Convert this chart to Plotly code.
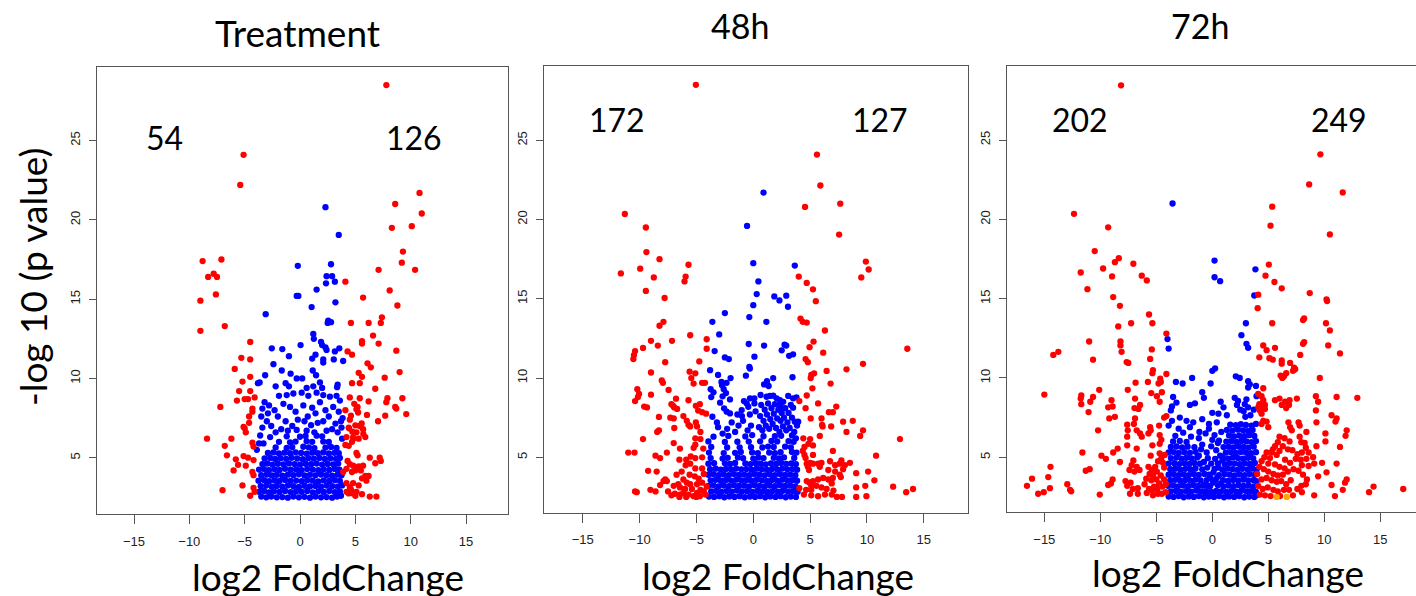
import plotly.graph_objects as go

# ---------------- data (log2 fold change, -log10 p) ----------------
titles = ["Treatment", "48h", "72h"]
count_down = ["54", "172", "202"]
count_up = ["126", "127", "249"]
x_ticks = [-15, -10, -5, 0, 5, 10, 15]
y_ticks = [5, 10, 15, 20, 25]

treat_red = [
    (-5.1,24.1),(-5.4,22.2),(-8.8,17.4),(-7.1,17.5),(-8.3,16.4),(-7.8,16.6),(-7.5,16.4),(-7.6,15.3),(-9.0,14.9),(-9.0,13.0),
    (-6.8,13.3),(-4.5,12.3),(-5.3,11.3),(-4.5,11.2),(-5.9,10.6),(-4.5,10.1),(-5.2,9.8),(-5.5,9.2),(-4.5,9.2),(-4.1,8.8),
    (-5.7,8.6),(-5.0,8.7),(-4.7,8.7),(-7.2,8.2),(-4.3,8.1),(-4.3,7.9),(-4.6,7.6),(-4.6,7.2),(-5.1,6.95),(-5.0,6.85),
    (-4.9,6.6),(-8.4,6.2),(-6.2,6.2),(-4.3,5.95),(-4.2,5.7),(-6.8,5.75),(-6.6,5.15),(-5.8,4.9),(-5.1,5.1),(-4.7,5.0),
    (-4.2,4.85),(-5.6,4.55),(-4.9,4.5),(-6.0,4.2),(-4.3,4.1),(-4.2,3.9),(-5.2,3.25),(-7.0,2.95),(-4.2,3.1),(-4.1,2.85),(-4.5,2.6),
    (7.8,28.5),(10.8,21.7),(8.6,21.0),(11.0,20.4),(8.3,19.5),(10.1,19.6),(9.3,18.0),(9.2,17.3),(7.1,16.85),(10.4,16.85),
    (8.1,15.55),(5.7,15.1),(4.1,16.1),(8.8,14.6),(7.4,13.85),(7.3,13.5),(4.6,13.5),(6.2,13.5),(6.6,12.7),(7.1,12.2),
    (5.6,12.2),(5.6,12.35),(4.3,11.7),(4.7,11.5),(8.7,11.75),(6.1,10.95),(6.4,10.7),(5.3,10.35),(5.6,10.1),(9.0,10.4),
    (7.65,10.05),(4.7,9.7),(5.4,9.7),(6.8,9.35),(4.5,8.8),(5.4,8.75),(6.2,8.55),(7.9,8.75),(7.8,8.5),(9.25,8.75),
    (8.6,8.2),(8.7,8.1),(9.6,7.75),(7.7,7.65),(7.05,7.3),(6.05,7.7),(4.9,8.4),(5.2,8.2),(5.1,8.05),(5.25,7.85),
    (4.1,8.0),(4.6,7.65),(4.5,7.4),(5.4,7.0),(5.7,6.8),(5.1,6.6),(4.4,6.9),(4.2,6.3),(4.8,6.3),(4.7,6.0),
    (5.3,6.2),(5.9,6.3),(4.1,5.8),(4.4,5.75),(5.1,5.3),(5.2,5.15),(6.3,5.0),(7.2,5.0),(7.3,4.8),(6.8,4.65),
    (4.3,4.8),(4.5,4.6),(4.8,4.5),(4.2,4.3),(3.9,4.1),(4.7,4.1),(5.0,4.2),(5.3,4.45),(5.7,4.5),(5.5,4.2),
    (5.9,3.85),(6.2,3.85),(5.6,3.7),(6.0,3.55),(4.2,3.4),(4.8,3.4),(4.5,3.15),(5.3,3.25),(4.2,2.85),(4.4,2.75),
    (4.8,2.75),(5.1,2.85),(5.6,2.7),(6.3,2.55),(6.9,2.55),(4.6,3.0),(5.0,2.6),(4.43,6.85),(4.73,6.64),(5.0,7.04),
    (5.57,7.16),(5.72,6.5),(4.82,6.2),
]
treat_blue = [
    (2.3,20.8),(3.5,19.05),(-0.2,17.1),(2.8,17.2),(2.4,16.45),(2.9,16.45),(2.35,16.0),(3.15,16.1),(1.5,15.6),(-0.3,15.2),
    (-0.15,15.2),(1.05,14.5),(3.2,14.8),(-3.1,14.05),(2.5,13.5),(2.55,13.65),(2.8,13.55),(1.2,12.8),(1.25,12.5),(0.05,12.1),
    (-2.55,11.9),(-1.6,11.85),(1.9,12.3),(2.0,12.1),(2.3,11.95),(2.4,11.8),(3.15,11.7),(3.55,11.9),(1.1,11.25),(1.4,11.5),
    (2.1,11.2),(2.1,11.0),(3.05,11.2),(3.9,11.1),(-1.0,11.4),(-2.4,10.9),(-1.65,10.5),(-3.15,10.2),(-0.85,10.3),(-0.3,10.0),
    (0.2,10.0),(1.15,10.5),(1.45,10.2),(1.8,9.75),(2.0,9.4),(1.2,9.5),(-3.8,9.7),(-3.65,9.75),(-2.2,9.5),(-1.3,9.7),
    (-1.0,9.5),(3.4,9.6),(3.35,9.45),(0.6,9.4),
    (-1.9,8.9),(-1.2,8.95),(-0.6,9.05),(0.15,9.1),(0.75,8.9),(1.5,9.1),(2.1,8.95),(2.7,8.85),(3.3,8.9),(3.6,8.6),
    (-3.2,8.5),(-2.8,8.3),(-2.3,8.0),(-3.4,8.1),(-2.9,7.8),(-3.5,7.6),(-3.0,7.3),(-3.4,6.9),(-2.6,7.0),(-2.0,7.6),
    (-1.5,8.4),(-0.9,8.2),(-0.4,7.9),(0.3,8.3),(0.7,7.6),(1.1,8.15),(1.4,7.8),(1.8,8.5),(2.3,8.0),(2.6,7.6),
    (3.0,8.2),(3.5,7.9),(3.7,7.3),(3.2,7.15),(2.9,6.8),(2.1,7.3),(1.6,7.2),(1.0,7.05),(0.4,7.3),(-0.2,7.4),
    (-0.7,7.0),(-1.3,7.3),(-1.7,6.8),(-2.2,6.6),(-1.1,6.7),(-0.3,6.75),(0.6,6.7),(1.3,6.6),(2.4,6.7),(3.4,6.6),
    (-3.6,6.4),(-2.7,6.3),(3.75,6.9),(3.85,7.5),(3.8,6.2),(-3.7,5.9),(-3.9,5.5),(-3.3,5.9),
    (-3.5,2.55),(-3.05,2.5),(-2.6,2.55),(-2.1,2.5),(-1.6,2.52),(-1.1,2.48),(-0.6,2.55),(-0.1,2.5),(0.4,2.53),(0.9,2.48),
    (1.4,2.55),(1.9,2.5),(2.4,2.52),(2.9,2.48),(3.35,2.55),(3.7,2.6),
    (-3.7,2.85),(-3.25,2.9),(-2.8,2.82),(-2.35,2.88),(-1.85,2.84),(-1.35,2.9),(-0.85,2.83),(-0.35,2.87),(0.15,2.85),(0.65,2.9),
    (1.15,2.82),(1.65,2.88),(2.15,2.84),(2.65,2.9),(3.15,2.83),(3.6,2.87),
    (-3.55,3.2),(-3.05,3.24),(-2.55,3.17),(-2.1,3.22),(-1.6,3.18),(-1.1,3.25),(-0.6,3.2),(-0.1,3.16),(0.4,3.23),(0.9,3.19),
    (1.4,3.22),(1.9,3.17),(2.4,3.24),(2.9,3.2),(3.4,3.18),(3.8,3.25),
    (-3.75,3.55),(-3.25,3.58),(-2.8,3.52),(-2.3,3.57),(-1.85,3.53),(-1.35,3.6),(-0.85,3.54),(-0.35,3.56),(0.15,3.52),(0.65,3.58),
    (1.15,3.55),(1.65,3.5),(2.15,3.57),(2.65,3.53),(3.15,3.58),(3.6,3.54),
    (-3.5,3.9),(-3.0,3.94),(-2.55,3.88),(-2.1,3.92),(-1.6,3.87),(-1.1,3.93),(-0.6,3.9),(-0.1,3.95),(0.4,3.88),(0.9,3.92),
    (1.4,3.89),(1.9,3.94),(2.4,3.9),(2.9,3.87),(3.4,3.93),(3.75,3.9),
    (-3.7,4.25),(-3.25,4.28),(-2.8,4.22),(-2.3,4.27),(-1.85,4.23),(-1.35,4.3),(-0.85,4.24),(-0.35,4.26),(0.15,4.22),(0.65,4.28),
    (1.15,4.25),(1.65,4.21),(2.15,4.27),(2.65,4.23),(3.15,4.29),(3.55,4.24),
    (-3.4,4.6),(-2.95,4.63),(-2.5,4.57),(-2.0,4.62),(-1.5,4.58),(-1.0,4.64),(-0.5,4.6),(0.0,4.56),(0.5,4.62),(1.0,4.59),
    (1.5,4.63),(2.0,4.57),(2.5,4.61),(3.0,4.58),(3.45,4.63),
    (-3.2,4.95),(-2.7,4.98),(-2.25,4.92),(-1.75,4.97),(-1.25,4.93),(-0.75,4.99),(-0.25,4.95),(0.25,4.91),(0.75,4.97),(1.25,4.94),
    (1.75,4.98),(2.25,4.92),(2.75,4.96),(3.25,4.93),(3.6,4.98),
    (-2.9,5.3),(-2.4,5.33),(-1.9,5.27),(-1.4,5.32),(-0.9,5.28),(-0.4,5.34),(0.1,5.3),(0.6,5.26),(1.1,5.32),(1.6,5.29),
    (2.1,5.33),(2.6,5.27),(3.1,5.31),(3.5,5.28),
    (-2.2,5.65),(-1.2,5.62),(-0.7,5.67),(0.3,5.69),(0.8,5.65),(1.3,5.61),(2.3,5.64),(2.8,5.68),(3.3,5.62),
    (-1.9,6.0),(-0.9,5.97),(-0.4,6.02),(0.6,6.04),(1.1,6.0),(2.1,6.02),(2.6,5.99),
    (-1.2,6.35),(0.0,6.32),(0.5,6.37),(1.5,6.39),(2.0,6.35),
]

h48_red = [
    (-5.05,28.5),(-11.3,20.35),(-9.45,19.5),(-9.4,17.95),(-8.25,17.5),(-9.95,16.9),(-11.65,16.6),(-8.75,16.35),(-5.7,17.15),(-5.95,16.4),
    (-6.05,16.1),(-9.45,15.5),(-7.8,15.05),(-8.25,13.3),(-7.9,13.55),(-5.55,12.7),(-4.1,12.45),(-7.15,12.35),(-9.0,12.35),(-8.4,12.05),
    (-9.7,11.9),(-10.4,11.7),(-10.5,11.45),(-10.55,11.2),(-4.1,11.85),(-4.75,11.05),(-7.75,11.0),(-5.6,10.4),(-5.1,10.3),(-5.45,10.0),
    (-5.25,9.65),(-9.0,10.35),(-8.05,9.85),(-7.95,9.7),(-4.5,9.7),(-4.25,9.7),(-10.2,9.3),(-7.45,9.25),(-10.05,9.0),(-10.15,8.8),
    (-10.4,8.55),(-9.0,8.95),(-6.8,8.7),(-5.7,8.6),(-9.6,8.2),(-9.35,8.15),(-7.2,8.35),(-6.95,8.15),(-6.7,8.05),(-7.05,8.25),
    (-5.05,8.25),(-4.7,8.35),(-4.85,7.95),(-4.5,7.85),(-4.15,7.75),(-8.3,7.55),(-7.3,7.5),(-7.0,7.45),(-6.15,7.6),(-5.85,7.3),
    (-5.7,7.05),(-5.55,6.95),(-5.05,7.2),(-4.95,6.95),(-6.95,6.85),(-8.45,6.6),(-8.3,6.7),(-4.65,6.6),(-5.1,6.2),(-4.65,6.15),
    (-9.7,6.15),(-7.0,5.9),(-6.45,5.55),(-5.1,5.8),(-4.4,5.55),(-5.25,5.6),(-11.0,5.3),(-10.45,5.3),(-7.6,5.3),(-8.6,5.1),
    (-8.2,4.95),(-6.5,4.85),(-5.9,4.85),(-5.5,5.05),(-5.1,4.95),(-4.5,5.0),(-9.25,4.15),(-8.5,4.1),(-7.75,3.6),(-7.6,3.5),
    (-7.9,3.5),(-6.15,3.6),(-5.85,3.4),(-5.55,3.3),(-6.45,3.1),(-6.0,3.0),(-5.4,3.0),(-4.95,3.3),(-4.5,3.4),(-4.65,2.95),
    (-4.35,2.85),(-4.95,2.75),(-5.25,2.55),(-5.7,2.65),(-6.15,2.75),(-6.45,2.65),(-6.9,2.7),(-7.2,2.6),(-7.5,2.85),(-4.2,2.65),
    (-4.1,3.15),(-4.35,3.95),(-4.5,4.3),(-5.1,4.3),(-5.55,4.6),(-5.95,4.5),(-5.6,3.9),(-5.15,3.8),(-6.3,4.1),(-6.75,3.9),
    (-6.6,3.3),(-7.0,3.2),(-4.8,3.65),(-10.4,2.85),(-10.25,2.8),(-9.05,2.95),(-8.6,2.85),(-8.2,3.25),(-5.0,2.5),(-4.7,2.55),
    (-5.9,2.5),(-6.5,2.5),
    (5.6,24.1),(5.9,22.15),(4.55,20.8),(7.65,21.0),(7.55,19.05),(9.9,17.35),(10.15,16.85),(9.5,16.35),(4.0,16.4),(4.7,16.0),
    (5.25,15.6),(5.5,14.85),(4.15,13.75),(4.35,13.55),(4.7,13.5),(6.3,13.0),(5.3,12.3),(4.95,11.95),(6.15,11.6),(4.6,11.2),
    (4.8,11.0),(5.1,10.2),(5.35,10.3),(6.45,10.45),(8.2,10.55),(9.65,10.9),(5.05,10.0),(6.8,9.65),(5.2,9.35),(4.7,8.9),
    (4.05,8.55),(5.7,8.4),(4.6,8.1),(7.3,8.2),(6.65,7.85),(7.0,7.85),(5.05,7.45),(6.0,7.45),(7.9,7.25),(8.75,7.3),
    (6.05,7.05),(6.1,6.95),(6.85,6.95),(8.2,6.6),(9.65,6.7),(9.4,6.35),(5.85,6.35),(4.4,6.2),(5.0,6.15),(4.85,5.85),
    (5.25,5.75),(4.5,5.65),(12.9,6.15),(7.0,5.4),(5.25,5.15),(4.35,5.4),(4.5,5.15),(4.6,4.95),(4.7,4.6),(4.8,4.4),
    (4.9,4.2),(10.8,5.1),(5.0,4.65),(5.25,4.6),(5.7,4.6),(6.0,4.65),(5.85,4.4),(6.75,4.75),(7.2,4.5),(7.6,4.6),
    (7.75,4.8),(8.05,4.5),(8.5,4.65),(7.9,4.25),(6.6,4.2),(7.2,4.1),(7.6,3.9),(7.0,3.7),(6.6,3.6),(6.15,3.7),
    (5.7,3.6),(5.25,3.5),(4.95,3.4),(4.7,3.5),(5.1,3.2),(5.55,3.2),(6.0,3.1),(5.1,2.95),(4.65,2.95),(4.05,3.05),
    (4.45,2.65),(5.1,2.6),(5.7,2.55),(6.3,2.65),(6.9,2.65),(7.05,2.9),(7.35,2.5),(7.8,2.5),(6.45,3.0),(6.9,3.35),
    (7.7,3.75),(9.05,4.0),(10.1,4.1),(10.65,3.55),(9.05,3.1),(9.85,3.2),(9.95,2.55),(9.05,2.5),(12.3,3.15),(13.45,2.8),
    (14.05,3.0),(13.55,11.85),
]
h48_blue = [
    (0.9,21.7),(-0.55,19.6),(0.0,17.25),(3.65,17.1),(0.45,16.1),(0.3,15.3),(1.85,15.15),(2.3,14.9),(2.9,15.2),(3.05,14.5),
    (0.0,14.6),(-2.5,14.1),(-0.35,13.85),(-3.6,13.55),(1.15,13.55),(-3.0,12.75),(-0.4,12.15),(0.95,12.05),(2.75,12.1),(2.9,12.05),
    (2.5,11.75),(-3.4,11.7),(3.5,11.5),(3.15,11.4),(0.1,11.35),(-2.5,11.3),(-2.15,11.2),(-0.35,10.7),(-0.3,10.6),(-3.8,10.5),
    (-3.1,10.2),(-0.65,10.15),(1.75,10.0),(3.45,10.05),(-2.8,9.75),(-2.35,9.7),(-2.0,10.0),(1.2,9.8),(0.95,9.6),(1.35,9.5),
    (-3.75,9.3),(-3.5,9.1),(-3.7,8.8),(-2.75,9.55),(-2.6,9.3),(-2.4,9.05),(-2.7,8.85),
    (-2.05,8.65),(-2.92,8.45),(-0.82,8.55),(-0.58,8.4),(-0.29,8.72),(0.09,8.72),(0.64,8.93),(1.17,8.82),(1.46,8.87),(1.75,8.89),
    (2.05,8.72),(2.34,8.61),(2.63,8.5),(3.07,8.87),(3.5,8.72),(3.8,8.78),(2.34,8.3),(2.63,8.09),(3.5,8.13),(3.95,7.25),
    (3.65,7.25),(-3.6,7.56),(-2.57,8.09),(-2.34,7.88),(-2.05,7.77),(-1.02,7.98),(-0.44,8.19),
    (0.7,8.3),(1.0,8.0),(1.3,8.4),(1.6,8.1),(1.9,8.35),(2.2,8.0),(2.5,7.8),(2.8,8.1),(3.1,7.8),(3.3,8.3),
    (0.6,7.6),(0.9,7.3),(1.2,7.7),(1.5,7.4),(1.8,7.75),(2.1,7.45),(2.4,7.3),(2.7,7.5),(3.0,7.2),(3.4,7.5),
    (0.5,6.9),(0.8,6.7),(1.1,7.0),(1.4,6.8),(1.7,7.1),(2.0,6.85),(2.3,6.6),(2.6,6.95),(2.9,6.7),(3.2,6.85),
    (3.6,6.6),(-0.2,7.0),(-0.5,6.7),(-0.9,7.3),(-1.3,7.0),(-1.6,6.6),(-1.9,7.2),(-2.3,6.8),(-2.7,6.5),(-3.1,6.9),
    (-3.5,6.3),(-0.3,7.7),(-1.0,7.6),(-1.4,7.7),(-3.2,7.2),(0.2,7.9),(0.1,8.4),(-0.1,6.4),(3.85,7.0),(3.75,6.2),
    (-3.9,2.52),(-3.45,2.5),(-3.0,2.55),(-2.55,2.48),(-2.1,2.53),(-1.65,2.5),(-1.2,2.55),(-0.75,2.48),(-0.3,2.52),(0.15,2.5),
    (0.6,2.55),(1.05,2.48),(1.5,2.53),(1.95,2.5),(2.4,2.55),(2.85,2.48),(3.3,2.52),(3.75,2.5),
    (-3.7,2.85),(-3.25,2.88),(-2.8,2.82),(-2.35,2.87),(-1.9,2.83),(-1.45,2.9),(-1.0,2.84),(-0.55,2.86),(-0.1,2.82),(0.35,2.88),
    (0.8,2.85),(1.25,2.81),(1.7,2.87),(2.15,2.83),(2.6,2.89),(3.05,2.84),(3.5,2.86),(3.9,2.82),
    (-3.95,3.2),(-3.5,3.23),(-3.05,3.17),(-2.6,3.22),(-2.15,3.18),(-1.7,3.24),(-1.25,3.19),(-0.8,3.21),(-0.35,3.17),(0.1,3.23),
    (0.55,3.2),(1.0,3.16),(1.45,3.22),(1.9,3.18),(2.35,3.24),(2.8,3.19),(3.25,3.21),(3.7,3.17),
    (-3.75,3.55),(-3.3,3.58),(-2.85,3.52),(-2.4,3.57),(-1.95,3.53),(-1.5,3.59),(-1.05,3.54),(-0.6,3.56),(-0.15,3.52),(0.3,3.58),
    (0.75,3.55),(1.2,3.51),(1.65,3.57),(2.1,3.53),(2.55,3.59),(3.0,3.54),(3.45,3.56),(3.85,3.52),
    (-3.95,3.9),(-3.5,3.93),(-3.05,3.87),(-2.6,3.92),(-2.15,3.88),(-1.7,3.94),(-1.25,3.89),(-0.8,3.91),(-0.35,3.87),(0.1,3.93),
    (0.55,3.9),(1.0,3.86),(1.45,3.92),(1.9,3.88),(2.35,3.94),(2.8,3.89),(3.25,3.91),(3.7,3.87),
    (-3.8,4.25),(-3.3,4.28),(-2.85,4.22),(-2.4,4.27),(-1.95,4.23),(-1.5,4.29),(-1.05,4.24),(-0.6,4.26),(-0.15,4.22),(0.3,4.28),
    (0.75,4.25),(1.2,4.21),(1.65,4.27),(2.1,4.23),(2.55,4.29),(3.0,4.24),(3.45,4.26),(3.85,4.22),
    (-3.95,4.6),(-3.45,4.63),(-2.5,4.62),(-2.05,4.58),(-1.6,4.64),(-0.7,4.61),(-0.25,4.57),(0.2,4.63),
    (0.65,4.6),(1.1,4.56),(1.55,4.62),(2.0,4.58),(2.45,4.64),(2.9,4.59),(3.35,4.61),(3.75,4.57),
    (-3.75,4.95),(-2.7,4.92),(-2.25,4.97),(-1.35,4.99),(-0.9,4.94),(0.0,4.92),(0.45,4.98),(0.9,4.95),(1.8,4.97),(2.25,4.93),
    (2.7,4.99),(3.6,4.96),
    (-3.9,5.3),(-2.6,5.27),(-1.6,5.28),(-1.1,5.34),(-0.1,5.31),(0.4,5.27),(1.4,5.3),(1.9,5.26),(2.4,5.32),(3.4,5.34),(3.8,5.3),
    (-3.7,5.65),(-2.3,5.62),(-1.2,5.63),(-0.2,5.64),(0.8,5.62),(1.3,5.68),(1.8,5.65),(2.8,5.67),(3.3,5.63),
    (-3.95,6.0),(-2.5,5.97),(-1.4,5.98),(-0.4,5.99),(0.6,6.01),(1.6,6.03),(2.1,6.0),(3.1,6.02),(3.55,5.98),
    (-2.2,6.35),(-0.7,6.32),(0.9,6.33),(1.9,6.34),(2.45,6.36),(3.4,6.38),
]

h72_red = [
    (-8.15,28.45),(-12.35,20.35),(-9.3,19.5),(-10.5,18.0),(-9.75,16.9),(-8.7,17.3),(-8.35,17.55),(-7.05,17.2),(-11.75,16.65),(-8.95,16.4),
    (-6.3,16.45),(-5.85,16.15),(-11.15,15.6),(-8.85,15.1),(-8.25,14.55),(-5.65,14.0),(-5.35,13.45),(-7.25,13.45),(-8.4,13.25),(-4.1,12.8),
    (-8.2,12.3),(-8.2,12.05),(-8.1,11.65),(-11.0,12.3),(-13.75,11.65),(-14.2,11.45),(-5.4,11.8),(-5.55,11.2),(-10.65,11.15),(-7.65,11.0),
    (-7.5,10.95),(-5.3,10.5),(-5.35,10.3),(-4.1,10.25),(-4.65,9.95),(-4.6,9.75),(-4.8,9.65),(-5.75,9.75),(-6.85,9.7),(-10.1,9.25),
    (-15.0,8.95),(-11.7,8.9),(-11.75,8.7),(-11.7,8.35),(-10.65,8.8),(-10.9,8.5),(-9.0,8.6),(-9.3,8.15),(-8.9,8.2),(-7.55,9.25),
    (-6.9,8.7),(-6.45,8.3),(-6.95,8.1),(-6.6,8.05),(-5.45,9.05),(-4.95,8.85),(-4.5,9.1),(-4.7,8.5),(-11.05,7.85),(-9.2,7.45),
    (-8.7,7.55),(-6.9,7.45),(-7.0,7.1),(-7.6,7.05),(-7.55,6.7),(-4.3,7.5),(-4.1,7.6),(-4.75,7.0),(-10.2,6.7),(-6.75,6.7),
    (-6.45,6.5),(-6.3,6.3),(-5.55,6.9),(-5.5,6.7),(-5.7,6.5),(-7.6,6.3),(-7.6,5.75),(-4.7,6.4),(-4.55,6.1),(-4.7,5.85),
    (-5.35,5.75),(-6.75,5.55),(-11.6,5.3),(-9.9,5.1),(-9.5,4.9),(-8.85,5.3),(-8.45,5.55),(-8.25,4.7),(-5.5,5.1),(-4.7,5.25),
    (-4.55,4.95),(-4.25,5.15),(-4.85,4.75),(-4.4,4.65),(-7.05,4.8),(-7.2,4.5),(-6.75,4.4),(-7.4,4.2),(-6.95,4.1),(-6.5,4.2),
    (-14.45,4.4),(-11.3,4.15),(-10.95,4.25),(-5.7,4.4),(-5.4,4.2),(-5.1,4.4),(-4.95,4.1),(-5.6,3.95),(-5.3,3.85),(-5.9,3.65),
    (-5.45,3.55),(-5.0,3.6),(-4.6,3.85),(-4.3,3.6),(-4.75,3.35),(-5.2,3.15),(-5.65,3.0),(-5.35,2.9),(-4.9,3.0),(-4.45,3.15),
    (-4.15,3.3),(-4.5,2.7),(-4.85,2.7),(-5.3,2.6),(-5.85,2.75),(-4.15,2.8),(-6.05,3.3),(-4.3,4.35),(-7.75,3.5),(-7.3,3.4),
    (-7.6,3.2),(-7.1,3.0),(-6.65,3.05),(-6.65,2.7),(-7.35,2.7),(-8.9,3.6),(-9.05,3.35),(-16.1,3.65),(-16.55,3.2),(-15.55,2.7),
    (-15.05,2.8),(-14.5,3.05),(-14.65,3.75),(-12.95,3.3),(-12.7,2.95),(-12.6,2.85),(-10.05,2.65),(-9.3,3.25),
    (9.65,24.1),(8.65,22.2),(11.65,21.7),(5.35,20.8),(5.2,19.6),(10.5,19.05),(5.05,17.15),(4.75,16.45),(5.55,16.05),(6.2,15.65),
    (4.1,15.25),(8.7,15.35),(10.2,14.95),(4.05,14.4),(10.25,14.85),(8.2,13.75),(8.1,13.65),(5.35,13.45),(10.15,13.45),(10.5,13.0),
    (8.2,12.25),(8.1,12.15),(4.55,12.05),(5.6,11.9),(4.85,11.75),(10.35,12.05),(11.4,11.55),(7.85,11.45),(4.2,11.3),(5.1,11.25),
    (5.4,11.15),(6.2,11.1),(6.2,10.9),(6.95,10.95),(7.4,10.55),(7.2,10.45),(7.3,10.65),(6.1,10.15),(6.4,10.1),(6.25,10.0),
    (6.6,10.3),(9.6,10.0),(4.55,9.35),(4.1,9.0),(4.4,8.85),(4.55,8.6),(4.2,8.35),(4.4,8.25),(4.7,8.3),(4.1,8.15),
    (4.25,7.95),(4.4,7.75),(4.7,8.05),(5.6,8.6),(6.0,8.7),(6.2,8.3),(6.5,8.5),(6.6,8.1),(6.85,8.3),(6.9,8.6),
    (7.55,8.7),(9.25,8.85),(9.45,8.5),(11.1,8.8),(12.95,8.75),(9.25,7.95),(10.65,7.65),(11.1,7.45),(11.0,7.25),(9.3,7.2),
    (7.7,7.2),(7.8,7.0),(6.8,7.2),(6.95,6.9),(7.1,6.7),(4.55,7.3),(4.4,7.1),(5.0,6.9),(4.85,7.25),(12.0,6.7),
    (11.9,6.35),(10.1,6.5),(10.1,6.0),(8.4,6.6),(7.8,6.3),(7.95,5.95),(8.25,5.9),(6.0,6.3),(6.45,6.2),(5.85,5.95),
    (6.9,6.0),(6.3,5.7),(6.75,5.5),(6.0,5.4),(5.6,5.7),(5.4,5.5),(5.3,5.3),(5.75,5.15),(5.15,4.95),(4.85,5.3),
    (4.65,5.0),(4.4,4.75),(5.0,4.6),(5.6,4.55),(6.0,4.4),(6.45,4.3),(6.75,4.1),(6.3,3.9),(5.85,3.85),(5.45,3.95),
    (5.0,4.1),(4.6,4.25),(4.2,4.4),(4.0,3.95),(4.4,3.6),(4.85,3.7),(5.3,3.55),(5.75,3.45),(6.15,3.5),(6.6,3.3),
    (7.0,3.55),(6.85,2.95),(6.4,2.95),(5.85,2.85),(5.45,2.95),(4.95,3.1),(4.5,3.0),(4.1,3.2),(4.25,2.65),(4.7,2.6),
    (5.2,2.55),(7.45,4.9),(7.9,4.85),(8.4,4.9),(8.6,4.45),(8.0,4.5),(7.7,4.15),(8.1,3.9),(8.45,3.6),(8.35,3.3),
    (7.95,3.2),(7.6,3.0),(8.0,2.8),(7.2,2.6),(6.05,2.55),(7.6,5.2),(7.15,5.45),(6.5,4.85),(6.95,4.65),(7.25,4.25),
    (9.1,4.6),(9.8,4.65),(11.1,4.6),(10.2,4.05),(9.45,3.8),(12.0,3.6),(11.85,3.4),(10.65,3.25),(11.65,2.95),(10.95,2.55),
    (9.1,2.6),(14.0,2.8),(14.4,3.15),(17.05,3.0),(11.4,5.65),(8.35,5.6),(8.0,5.3),(9.0,5.0),(9.3,5.7),(8.6,5.3),
]
h72_orange = [(5.75,2.5),(6.65,2.5)]
h72_blue = [
    (-3.55,21.0),(0.2,17.4),(0.2,16.35),(0.7,16.1),(3.85,16.85),(3.75,15.2),(3.0,13.45),(2.6,12.7),(3.05,12.15),(3.2,11.9),
    (-4.0,12.45),(-3.9,11.85),(0.25,10.6),(0.0,10.45),(-1.8,10.0),(-2.65,9.65),(-3.25,9.75),(-0.15,9.65),(2.1,10.1),(2.45,10.0),
    (3.2,9.8),(3.35,9.6),(3.2,9.4),(3.9,9.5),(3.95,8.85),(-0.9,9.1),(-0.75,8.75),(-3.5,8.8),(-3.2,8.45),(-3.6,8.2),
    (-3.7,7.95),(-2.0,8.3),(-1.55,8.4),(0.75,8.5),(1.0,8.15),(2.0,8.75),(2.3,8.55),(3.05,8.65),(2.9,8.35),(3.2,8.15),
    (2.2,8.3),(2.5,8.0),(2.8,7.9),(3.7,8.0),(3.4,7.65),(2.95,7.55),(0.0,7.8),(0.55,7.75),(1.3,7.65),(-2.9,7.5),
    (-2.3,7.3),(-1.7,7.2),(-0.9,7.4),(-0.3,7.1),(0.4,7.2),(-3.6,7.3),(-3.9,7.0),
    (-0.6,3.3),(0.05,3.4),(-0.15,3.7),(0.45,3.75),(-0.7,3.95),(0.1,4.05),(-0.45,4.35),(0.55,4.35),(-0.1,4.6),(0.25,4.9),
    (-0.75,4.7),(0.7,5.1),(-0.5,5.3),(0.35,5.45),(-0.9,5.8),(0.0,6.1),(-0.6,6.5),(0.8,6.6),(-0.3,6.8),(0.5,5.9),
    (-1.2,5.1),(-1.0,5.5),(0.9,4.8),(0.75,3.35),(-0.35,3.2),(0.05,2.7),(-0.55,2.7),(-1.15,6.6),(-2.0,6.9),(-3.0,6.8),
    (-3.9,2.52),(-3.45,2.5),(-3.0,2.55),(-2.55,2.48),(-2.1,2.53),(-1.65,2.5),(-1.2,2.55),(-0.75,2.48),(-0.3,2.52),(0.15,2.5),
    (0.6,2.55),(1.05,2.48),(1.5,2.53),(1.95,2.5),(2.4,2.55),(2.85,2.48),(3.3,2.52),(3.75,2.5),(3.95,2.6),
    (-3.7,2.85),(-3.25,2.88),(-2.8,2.82),(-2.35,2.87),(-1.9,2.83),(-1.45,2.9),(-1.0,2.84),(-0.55,2.86),(-0.1,2.82),(0.35,2.88),
    (0.8,2.85),(1.25,2.81),(1.7,2.87),(2.15,2.83),(2.6,2.89),(3.05,2.84),(3.5,2.86),(3.9,2.82),
    (-3.95,3.2),(-3.5,3.23),(-3.05,3.17),(-2.6,3.22),(-2.15,3.18),(-1.7,3.24),(-1.25,3.19),(-0.8,3.21),(-0.2,3.17),(0.5,3.23),
    (1.0,3.16),(1.45,3.22),(1.9,3.18),(2.35,3.24),(2.8,3.19),(3.25,3.21),(3.7,3.17),
    (-3.75,3.55),(-3.3,3.58),(-2.85,3.52),(-2.4,3.57),(-1.95,3.53),(-1.5,3.59),(-1.05,3.54),(-0.5,3.56),(0.3,3.58),(0.95,3.55),
    (1.4,3.51),(1.85,3.57),(2.3,3.53),(2.75,3.59),(3.2,3.54),(3.65,3.56),(3.95,3.5),
    (-3.9,3.9),(-3.45,3.93),(-3.0,3.87),(-2.55,3.92),(-2.1,3.88),(-1.65,3.94),(-1.2,3.89),(-0.3,3.91),(0.6,3.87),(1.1,3.93),
    (1.55,3.9),(2.0,3.86),(2.45,3.92),(2.9,3.88),(3.35,3.94),(3.8,3.89),
    (-3.75,4.25),(-3.3,4.28),(-2.85,4.22),(-2.4,4.27),(-1.95,4.23),(-1.5,4.29),(-0.9,4.24),(0.2,4.26),(0.9,4.22),(1.35,4.28),
    (1.8,4.25),(2.25,4.21),(2.7,4.27),(3.15,4.23),(3.6,4.29),(3.95,4.2),
    (-3.9,4.6),(-3.4,4.63),(-2.95,4.57),(-2.5,4.62),(-2.05,4.58),(-1.6,4.64),(-1.1,4.59),(0.5,4.61),(1.1,4.57),(1.55,4.63),
    (2.0,4.6),(2.45,4.56),(2.9,4.62),(3.35,4.58),(3.8,4.64),
    (-3.7,4.95),(-3.2,4.98),(-2.75,4.92),(-2.3,4.97),(-1.85,4.93),(-1.35,4.99),(-0.4,4.94),(0.95,4.96),(1.4,4.92),(1.85,4.98),
    (2.3,4.95),(2.75,4.91),(3.2,4.97),(3.65,4.93),
    (-3.9,5.3),(-3.45,5.33),(-3.0,5.27),(-2.5,5.32),(-2.0,5.28),(-1.5,5.34),(1.2,5.29),(1.65,5.31),(2.1,5.27),(2.55,5.33),
    (3.0,5.3),(3.45,5.26),(3.9,5.32),
    (-3.7,5.65),(-3.2,5.68),(-2.7,5.62),(-2.2,5.67),(-1.6,5.63),(-0.1,5.69),(1.0,5.64),(1.45,5.66),(1.9,5.62),(2.35,5.68),
    (2.8,5.65),(3.25,5.61),(3.7,5.67),
    (-3.5,6.0),(-2.9,6.03),(-2.3,5.97),(-1.9,6.3),(0.6,6.04),(1.25,5.99),(1.7,6.01),(2.15,5.97),(2.6,6.03),(3.05,6.0),
    (3.5,5.96),(3.9,6.02),
    (-3.3,6.35),(-2.6,6.55),(-1.2,6.2),(0.2,6.4),(1.5,6.38),(1.95,6.32),(2.4,6.37),(2.85,6.33),(3.3,6.39),(3.75,6.34),
    (1.3,6.72),(1.8,6.68),(2.3,6.74),(2.75,6.7),(3.2,6.66),(3.6,6.72),
    (1.6,7.05),(2.1,7.02),(2.55,7.08),(3.0,7.04),(3.5,7.0),(3.9,7.1),
]

# ---------------- layout geometry (pixels) ----------------
W, H = 1416, 596
# (left, right, top, bottom) plot-box pixels, x range, y range
geom = [
    dict(box=(96.7, 508.3, 67.3, 514.0), xr=(-18.37, 18.82), yr=(1.45, 29.62), right=True),
    dict(box=(544.0, 967.7, 66.3, 512.7), xr=(-18.41, 18.86), yr=(1.505, 29.67), right=True),
    dict(box=(1006.7, 1416.0, 66.3, 512.3), xr=(-18.36, 18.19), yr=(1.53, 29.65), right=False),
]
panels = [
    (treat_blue, treat_red, []),
    (h48_blue, h48_red, []),
    (h72_blue, h72_red, h72_orange),
]

RED, BLUE, ORANGE = "#FF0000", "#0000FF", "#FFA500"
AX = "#555555"
TXT = "Lato, 'Open Sans', sans-serif"
TICKF = dict(family="Liberation Sans, Arial, sans-serif", size=13, color="#222222")

fig = go.Figure()
for i, (blue, red, orange) in enumerate(panels):
    xa = "x" if i == 0 else f"x{i+1}"
    ya = "y" if i == 0 else f"y{i+1}"
    for pts, col in ((blue, BLUE), (red, RED), (orange, ORANGE)):
        if not pts:
            continue
        xs, ys = zip(*pts)
        fig.add_trace(go.Scatter(x=xs, y=ys, mode="markers", xaxis=xa, yaxis=ya,
                                 marker=dict(color=col, size=6.3, line=dict(width=0)),
                                 hoverinfo="skip", showlegend=False))

    g = geom[i]
    l, r, t, b = g["box"]
    xkey = "xaxis" if i == 0 else f"xaxis{i+1}"
    ykey = "yaxis" if i == 0 else f"yaxis{i+1}"
    fig.layout[xkey] = dict(
        domain=[l / W, r / W], range=list(g["xr"]), anchor=ya,
        showline=True, linecolor=AX, linewidth=1, mirror=True,
        ticks="outside", ticklen=9, tickwidth=1, tickcolor=AX,
        tickvals=x_ticks, ticktext=[f"\u2212{abs(v)}" if v < 0 else str(v) for v in x_ticks],
        tickfont=TICKF, showgrid=False, zeroline=False, fixedrange=True,
        ticklabelstandoff=6,
    )
    fig.layout[ykey] = dict(
        domain=[1 - b / H, 1 - t / H], range=list(g["yr"]), anchor=xa,
        showline=True, linecolor=AX, linewidth=1, mirror=g["right"],
        ticks="outside", ticklen=7, tickwidth=1, tickcolor=AX,
        tickvals=y_ticks, tickangle=-90,
        tickfont=TICKF, showgrid=False, zeroline=False, fixedrange=True,
        ticklabelstandoff=4,
    )

ann = []
def add_text(txt, px, py, size, angle=0):
    ann.append(dict(text=txt, x=px / W, y=1 - py / H, xref="paper", yref="paper",
                    xanchor="center", yanchor="middle", showarrow=False, textangle=angle,
                    font=dict(family=TXT, size=size, color="#000000")))

add_text(titles[0], 297, 32, 37)
add_text(titles[1], 740, 26, 34)
add_text(titles[2], 1200, 26, 34)
for (px, py), txt in zip([(164, 137), (617, 120), (1079.5, 120)], count_down):
    add_text(txt, px, py, 32)
for (px, py), txt in zip([(414, 137), (880.5, 120), (1339, 120)], count_up):
    add_text(txt, px, py, 32)
for px, py in [(327.5, 576), (777.5, 575), (1227.5, 572)]:
    add_text("log2 FoldChange", px, py, 37)
add_text("-log 10 (p value)", 32, 277, 37, angle=-90)

fig.update_layout(width=W, height=H, margin=dict(l=0, r=0, t=0, b=0),
                  plot_bgcolor="white", paper_bgcolor="white", showlegend=False,
                  annotations=ann)

fig.write_html("out.html")
